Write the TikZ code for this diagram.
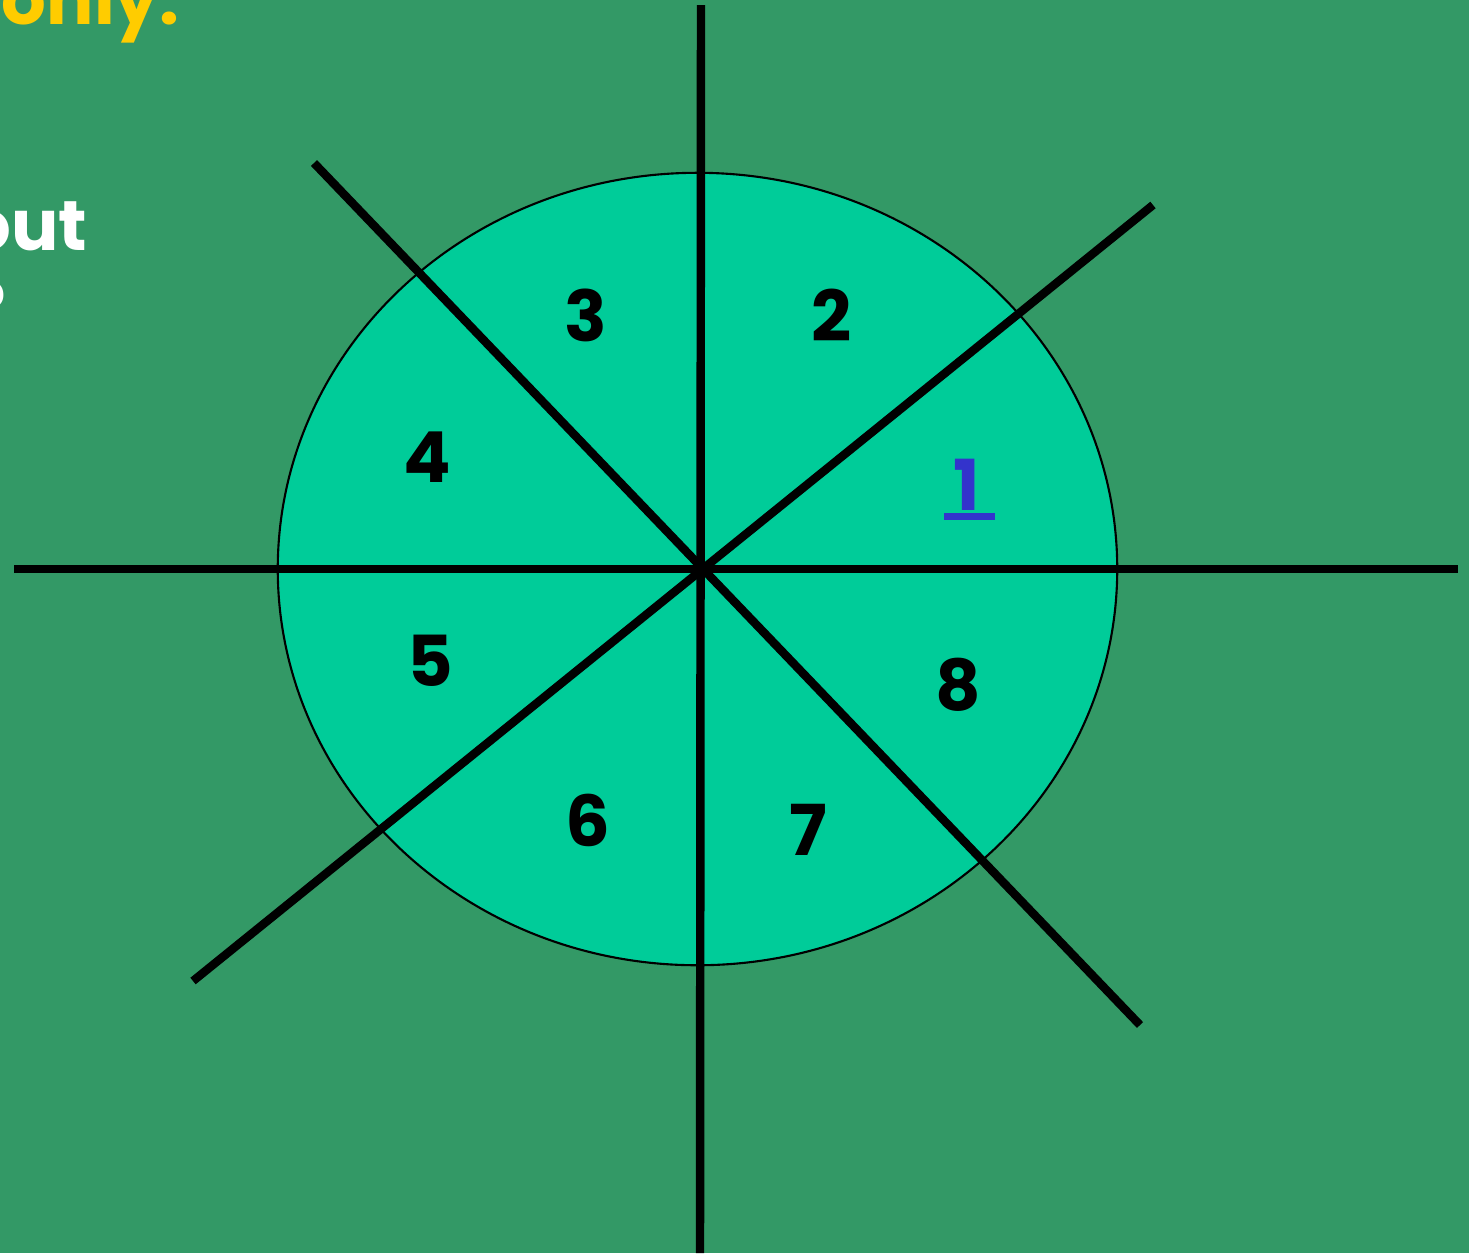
\documentclass[tikz,border=0pt]{standalone}
\usepackage{fontspec}
\usetikzlibrary{shapes.geometric}
\setmainfont{Poppins}[UprightFont=* Bold]
\definecolor{bg}{RGB}{51,153,102}
\definecolor{disc}{RGB}{0,204,153}
\definecolor{ylw}{RGB}{255,204,0}
\definecolor{numblue}{RGB}{51,51,204}
\begin{document}
\begin{tikzpicture}[x=0.01cm,y=-0.01cm,
  spoke/.style={line width=2.4pt,black},
  num/.style={font=\fontsize{20}{24}\selectfont,text=black,inner sep=0pt},
  cut/.style={font=\fontsize{20}{24}\selectfont,inner sep=0pt}]
\useasboundingbox (0,0) rectangle (1469,1253);
\clip (0,0) rectangle (1469,1253);
\fill[bg] (0,0) rectangle (1469,1253);
\node[cut,text=ylw,anchor=base east] (t1) at (180,24) {only:};
\node[cut,text=white,anchor=base east] (t2) at (88,250) {out};
\node[cut,text=white,anchor=base east] (t3) at (7,332) {?};
\node[ellipse,draw=black,line width=0.6pt,fill=disc,minimum width=8.39cm,minimum height=7.92cm,inner sep=0pt] (e) at (697.5,569) {};
\coordinate (v1) at (701,5);
\coordinate (v2) at (700,1253);
\coordinate (h1) at (14,569);
\coordinate (h2) at (1458,569);
\coordinate (d1) at (314,163);
\coordinate (d2) at (1140,1025);
\coordinate (d3) at (1153,205);
\coordinate (d4) at (193,981);
\draw[spoke] (v1) -- (v2);
\draw[spoke] (h1) -- (h2);
\draw[spoke] (d1) -- (d2);
\draw[spoke] (d3) -- (d4);
\node[num] (n3) at (586,315) {3};
\node[num] (n2) at (832,315) {2};
\node[num] (n4) at (427,457) {4};
\node[num,text=numblue] (n1) at (967,485) {1};
\fill[numblue] (944,513) rectangle (995,520);
\node[num] (n5) at (430,661) {5};
\node[num] (n8) at (958,685) {8};
\node[num] (n6) at (588,820) {6};
\node[num] (n7) at (808,830) {7};
\end{tikzpicture}
\end{document}
